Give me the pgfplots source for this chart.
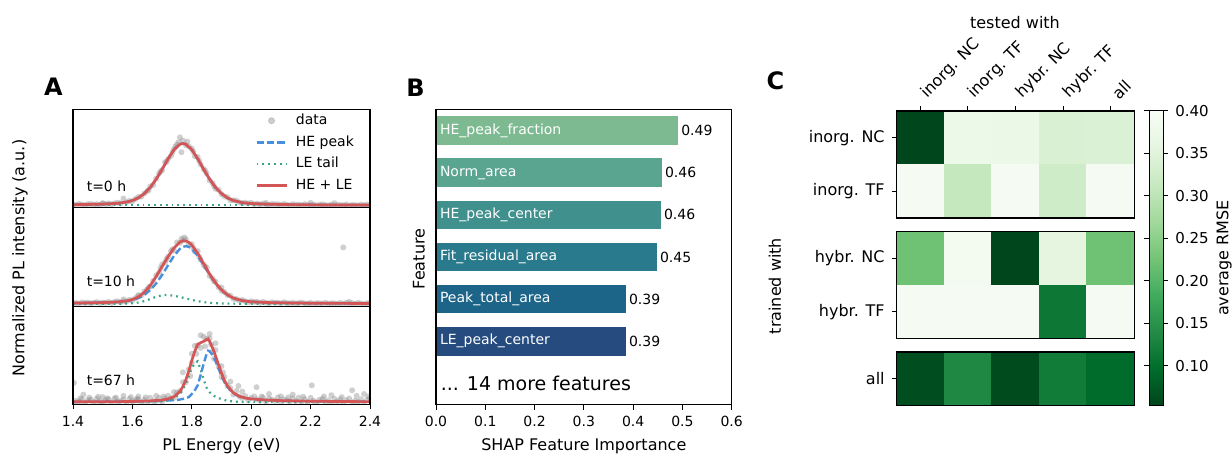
\documentclass[border=0pt]{standalone}
\usepackage{fontspec}
\setmainfont{DejaVu Sans}
\usepackage{pgfplots}
\pgfplotsset{compat=1.18}
\definecolor{fitred}{HTML}{D45555}
\definecolor{heblue}{HTML}{4690DE}
\definecolor{letail}{HTML}{3CA489}
\definecolor{ptgray}{HTML}{8C8C8C}
\definecolor{barA}{HTML}{7DBA91}
\definecolor{barB}{HTML}{59A590}
\definecolor{barC}{HTML}{40908E}
\definecolor{barD}{HTML}{287A8C}
\definecolor{barE}{HTML}{1C6488}
\definecolor{barF}{HTML}{254B7F}
\newcommand\fsS{\fontsize{7}{8.4}\selectfont}
\newcommand\fsM{\fontsize{8}{9.6}\selectfont}
\newcommand\fsL{\fontsize{9.5}{11}\selectfont}
\newcommand\fsP{\fontsize{12}{14}\selectfont\bfseries}
\pgfplotsset{
  colormap={greensr}{rgb255=(0,68,27) rgb255=(0,109,44) rgb255=(35,139,69) rgb255=(65,171,93) rgb255=(116,196,118) rgb255=(161,217,155) rgb255=(199,233,192) rgb255=(229,245,224) rgb255=(247,252,245)},
  myax/.style={scale only axis, axis line style={line width=0.6pt}, tick style={black, line width=0.5pt}, tick align=outside, major tick length=2.5pt, ticklabel style={font=\fsS}, /pgf/number format/assume math mode=true},
  panelA/.style={myax, width=148.5pt, height=49.167pt, xmin=1.4, xmax=2.4, ymin=-0.04, ymax=1.55, ymajorticks=false, xmajorticks=false, axis on top, clip marker paths=true},
  datapts/.style={only marks, mark=*, mark size=1.5pt, mark options={draw opacity=0, fill=ptgray, fill opacity=0.42},
     legend image code/.code={\fill[ptgray, opacity=0.42] (7.5pt,0pt) circle (1.5pt);}},
  linelegend/.style={legend image code/.code={\draw[##1] (0pt,0pt) -- (15pt,0pt);}},
  heline/.style={color=heblue, line width=1.2pt, dash pattern=on 3.6pt off 1.6pt, linelegend},
  leline/.style={color=letail, line width=1.1pt, dash pattern=on 0.9pt off 2pt, linelegend},
  redline/.style={color=fitred, line width=1.35pt, linelegend},
  heatax/.style={myax, width=118.8pt, xmin=-0.5, xmax=4.5, y dir=reverse, axis on top, colormap name=greensr, point meta min=0.053, point meta max=0.40, ytick pos=left, yticklabel style={font=\fsM}},
  heatcells/.style={patch, patch type=rectangle, shader=flat, point meta=explicit},
}
\begin{document}
\begin{tikzpicture}

% ---------------- Panel A top ----------------
\begin{axis}[panelA, at={(36.5pt,123.583pt)}, anchor=south west,
  legend cell align=left,
  legend style={at={(0.612,1.0)}, anchor=north west, draw=none, fill=none, font=\fsS, inner sep=0pt, row sep=0pt, /tikz/every odd column/.append style={column sep=2pt}}]
\addplot[datapts] coordinates {
(1.40,0.016)(1.41,0.004)(1.42,0.024)(1.43,0.012)(1.44,0.004)(1.45,0.019)(1.46,0.023)(1.47,0.012)(1.48,0.019)(1.49,0.008)
(1.50,0.029)(1.51,0.019)(1.52,0.031)(1.53,0.018)(1.54,0.033)(1.55,0.044)(1.56,0.031)(1.57,0.110)(1.58,0.049)(1.59,0.073)
(1.60,0.066)(1.61,0.103)(1.62,0.136)(1.63,0.141)(1.64,0.192)(1.65,0.231)(1.66,0.306)(1.67,0.329)(1.68,0.432)(1.69,0.516)
(1.70,0.569)(1.71,0.699)(1.72,0.748)(1.73,0.799)(1.74,0.910)(1.75,0.984)(1.76,1.100)(1.77,1.047)(1.78,0.973)(1.79,0.954)
(1.80,0.919)(1.81,0.795)(1.82,0.781)(1.83,0.660)(1.84,0.587)(1.85,0.516)(1.86,0.406)(1.87,0.360)(1.88,0.268)(1.89,0.252)
(1.90,0.182)(1.91,0.145)(1.92,0.131)(1.93,0.083)(1.94,0.080)(1.95,0.076)(1.96,0.049)(1.97,0.036)(1.98,0.043)(1.99,0.032)
(2.00,0.042)(2.01,0.018)(2.02,0.027)(2.03,0.016)(2.04,0.029)(2.05,0.016)(2.06,0.008)(2.07,0.023)(2.08,0.016)(2.09,0.019)
(2.10,0.006)(2.11,0.023)(2.12,0.008)(2.13,0.001)(2.14,0.019)(2.15,0.009)(2.16,0.013)(2.17,0.001)(2.18,0.020)(2.19,0.005)
(2.20,0.002)(2.21,0.013)(2.22,-0.002)(2.23,0.009)(2.24,0.016)(2.25,0.004)(2.26,-0.001)(2.27,0.012)(2.28,-0.005)(2.29,0.010)
(2.30,0.006)(2.31,0.001)(2.32,0.015)(2.33,-0.004)(2.34,0.007)(2.35,0.004)(2.36,-0.002)(2.37,0.012)(2.38,0.001)(2.39,0.015)
(2.40,-0.006)(1.765,0.86)(1.755,1.02)(1.785,1.03)(1.745,0.95)(2.20,0.04)(2.05,0.04)(1.50,0.035)(2.28,0.035)
(1.695,0.55)(1.715,0.70)(1.735,0.86)(1.805,0.87)(1.825,0.72)(1.845,0.56)(1.655,0.25)(1.875,0.31)};
\addlegendentry{data}
\addplot[heline] coordinates {(1.40,0.011)(1.45,0.015)(1.50,0.020)(1.55,0.033)(1.58,0.053)(1.60,0.078)(1.62,0.121)(1.64,0.190)(1.66,0.289)(1.68,0.423)(1.70,0.583)(1.72,0.752)(1.74,0.900)(1.76,0.988)(1.77,1.000)(1.78,0.988)(1.80,0.900)(1.82,0.752)(1.84,0.583)(1.86,0.423)(1.88,0.289)(1.90,0.190)(1.92,0.121)(1.94,0.078)(1.97,0.044)(2.00,0.030)(2.05,0.019)(2.10,0.014)(2.20,0.008)(2.30,0.006)(2.40,0.004)};
\addlegendentry{HE peak}
\addplot[leline] coordinates {(1.40,0)(2.40,0)};
\addlegendentry{LE tail}
\addplot[redline] coordinates {(1.40,0.011)(1.45,0.015)(1.50,0.020)(1.55,0.033)(1.58,0.053)(1.60,0.078)(1.62,0.121)(1.64,0.190)(1.66,0.289)(1.68,0.423)(1.70,0.583)(1.72,0.752)(1.74,0.900)(1.76,0.988)(1.77,1.000)(1.78,0.988)(1.80,0.900)(1.82,0.752)(1.84,0.583)(1.86,0.423)(1.88,0.289)(1.90,0.190)(1.92,0.121)(1.94,0.078)(1.97,0.044)(2.00,0.030)(2.05,0.019)(2.10,0.014)(2.20,0.008)(2.30,0.006)(2.40,0.004)};
\addlegendentry{HE + LE}
\node[anchor=west, font=\fsS, inner sep=0pt] at (rel axis cs:0.045,0.22) {t=0 h};
\end{axis}

% ---------------- Panel A middle ----------------
\begin{axis}[panelA, at={(36.5pt,74.417pt)}, anchor=south west]
\addplot[datapts] coordinates {
(1.40,0.005)(1.41,0.011)(1.42,0.000)(1.43,0.020)(1.44,0.010)(1.45,0.019)(1.46,0.005)(1.47,0.017)(1.48,0.025)(1.49,0.010)
(1.50,0.018)(1.51,0.015)(1.52,0.028)(1.53,0.012)(1.54,0.030)(1.55,0.040)(1.56,0.023)(1.57,0.037)(1.58,0.040)(1.59,0.063)
(1.60,0.054)(1.61,0.090)(1.62,0.117)(1.63,0.135)(1.64,0.198)(1.65,0.233)(1.66,0.277)(1.67,0.368)(1.68,0.457)(1.69,0.504)
(1.70,0.634)(1.71,0.670)(1.72,0.760)(1.73,0.851)(1.74,0.863)(1.75,0.991)(1.76,0.985)(1.77,1.021)(1.78,1.041)(1.79,0.961)
(1.80,0.963)(1.81,0.844)(1.82,0.850)(1.83,0.715)(1.84,0.631)(1.85,0.582)(1.86,0.451)(1.87,0.406)(1.88,0.354)(1.89,0.267)
(1.90,0.209)(1.91,0.187)(1.92,0.141)(1.93,0.129)(1.94,0.079)(1.95,0.076)(1.96,0.053)(1.97,0.059)(1.98,0.038)(1.99,0.024)
(2.00,0.038)(2.01,0.028)(2.02,0.029)(2.03,0.014)(2.04,0.031)(2.05,0.014)(2.06,0.006)(2.07,0.024)(2.08,0.014)(2.09,0.017)
(2.10,0.005)(2.11,0.024)(2.12,0.009)(2.13,0.005)(2.14,0.016)(2.15,0.001)(2.16,0.011)(2.17,0.018)(2.18,0.006)(2.19,0.001)
(2.20,0.014)(2.21,-0.003)(2.22,0.011)(2.23,0.007)(2.24,0.002)(2.25,0.016)(2.26,-0.002)(2.27,0.008)(2.28,0.005)(2.29,-0.001)
(2.30,0.013)(2.31,0.002)(2.32,0.016)(2.33,-0.005)(2.34,0.010)(2.35,-0.003)(2.36,0.015)(2.37,0.003)(2.38,-0.006)(2.39,0.008)
(2.40,0.011)(2.31,0.91)(1.775,1.07)(1.765,1.05)(1.57,0.07)(1.62,0.14)(1.90,0.26)(2.33,0.03)
(1.695,0.58)(1.715,0.72)(1.735,0.88)(1.805,0.90)(1.825,0.76)(1.845,0.60)(1.655,0.27)(1.875,0.36)};
\addplot[heline] coordinates {(1.40,0.010)(1.45,0.013)(1.50,0.018)(1.55,0.028)(1.58,0.041)(1.60,0.060)(1.62,0.090)(1.64,0.141)(1.66,0.219)(1.68,0.327)(1.70,0.465)(1.72,0.621)(1.74,0.773)(1.76,0.887)(1.77,0.919)(1.78,0.930)(1.79,0.919)(1.80,0.887)(1.82,0.773)(1.84,0.621)(1.86,0.465)(1.88,0.327)(1.90,0.219)(1.92,0.141)(1.94,0.090)(1.97,0.049)(2.00,0.031)(2.05,0.019)(2.10,0.014)(2.20,0.008)(2.30,0.005)(2.40,0.004)};
\addplot[leline] coordinates {(1.40,0)(1.56,0)(1.58,0.002)(1.60,0.007)(1.62,0.019)(1.64,0.042)(1.66,0.075)(1.68,0.112)(1.70,0.137)(1.71,0.140)(1.72,0.139)(1.74,0.128)(1.76,0.108)(1.78,0.085)(1.80,0.061)(1.82,0.041)(1.84,0.025)(1.86,0.014)(1.88,0.007)(1.90,0.0035)(1.92,0.0016)(1.96,0)(2.40,0)};
\addplot[redline] coordinates {(1.40,0.010)(1.45,0.013)(1.50,0.018)(1.55,0.028)(1.58,0.043)(1.60,0.067)(1.62,0.109)(1.64,0.183)(1.66,0.294)(1.68,0.439)(1.70,0.602)(1.72,0.760)(1.74,0.901)(1.76,0.995)(1.77,1.016)(1.78,1.015)(1.79,0.992)(1.80,0.948)(1.82,0.814)(1.84,0.646)(1.86,0.479)(1.88,0.334)(1.90,0.222)(1.92,0.143)(1.94,0.090)(1.97,0.049)(2.00,0.031)(2.05,0.019)(2.10,0.014)(2.20,0.008)(2.30,0.005)(2.40,0.004)};
\node[anchor=west, font=\fsS, inner sep=0pt] at (rel axis cs:0.045,0.25) {t=10 h};
\end{axis}

% ---------------- Panel A bottom ----------------
\begin{axis}[panelA, at={(36.5pt,25.25pt)}, anchor=south west,
  xmajorticks=true, xtick={1.4,1.6,1.8,2.0,2.2,2.4}, xtick pos=left,
  xticklabel style={/pgf/number format/.cd, fixed, fixed zerofill, precision=1}]
\addplot[datapts] coordinates {
(1.40,-0.012)(1.41,0.020)(1.42,0.006)(1.43,0.047)(1.44,-0.025)(1.45,0.030)(1.46,0.039)(1.47,-0.002)(1.48,0.053)(1.49,0.013)
(1.50,-0.015)(1.51,0.027)(1.52,0.045)(1.53,-0.005)(1.54,0.058)(1.55,0.005)(1.56,0.019)(1.57,0.037)(1.58,-0.017)(1.59,0.051)
(1.60,0.011)(1.61,0.026)(1.62,0.045)(1.63,-0.005)(1.64,0.037)(1.65,-0.017)(1.66,0.067)(1.67,0.014)(1.68,0.017)(1.69,0.068)
(1.70,0.001)(1.71,0.057)(1.72,0.101)(1.73,0.062)(1.74,0.066)(1.75,0.154)(1.76,0.176)(1.77,0.321)(1.78,0.320)(1.79,0.529)
(1.80,0.633)(1.81,0.909)(1.82,0.918)(1.83,0.875)(1.84,1.054)(1.85,1.022)(1.86,1.029)(1.87,0.818)(1.88,0.841)(1.89,0.575)
(1.90,0.403)(1.91,0.406)(1.92,0.265)(1.93,0.224)(1.94,0.120)(1.95,0.176)(1.96,0.089)(1.97,0.064)(1.98,0.098)(1.99,0.029)
(2.00,0.067)(2.01,0.092)(2.02,0.044)(2.03,0.021)(2.04,0.071)(2.05,0.001)(2.06,0.056)(2.07,0.040)(2.08,0.018)(2.09,0.074)
(2.10,0.001)(2.11,0.042)(2.12,0.027)(2.13,0.008)(2.14,0.058)(2.15,0.015)(2.16,0.070)(2.17,-0.010)(2.18,0.045)(2.19,-0.002)
(2.20,0.067)(2.21,0.020)(2.22,-0.013)(2.23,0.037)(2.24,0.051)(2.25,0.004)(2.26,0.027)(2.27,-0.020)(2.28,0.053)(2.29,0.011)
(2.30,0.043)(2.31,-0.012)(2.32,0.029)(2.33,0.056)(2.34,-0.004)(2.35,0.019)(2.36,0.005)(2.37,0.046)(2.38,-0.018)(2.39,0.037)
(2.40,0.059)
(1.403,0.31)(1.435,0.12)(1.57,0.10)(1.62,0.09)(1.68,0.10)(1.74,0.16)(1.50,0.08)(1.77,0.48)(1.80,0.78)(1.83,1.08)
(1.86,1.10)(1.88,0.95)(1.90,0.58)(1.93,0.33)(1.957,0.26)(1.97,0.17)(2.018,0.24)(2.06,0.13)(2.10,0.09)(2.14,0.12)
(2.204,0.27)(2.27,0.11)(2.34,0.19)(2.38,0.13)(1.455,0.07)(1.515,0.06)(1.595,0.08)(1.645,0.075)(1.705,0.09)(2.035,0.09)
(2.125,0.075)(2.175,0.085)(2.245,0.09)(2.305,0.08)(2.355,0.10)(2.395,0.09)(1.425,0.06)(1.485,0.085)(1.545,0.07)(1.615,0.05)
(1.845,0.90)(1.815,0.78)(1.875,0.70)(1.865,0.93)(1.795,0.42)(1.905,0.48)};
\addplot[heline] coordinates {(1.40,0.003)(1.50,0.005)(1.60,0.008)(1.66,0.013)(1.70,0.020)(1.72,0.025)(1.74,0.030)(1.76,0.040)(1.77,0.050)(1.78,0.060)(1.79,0.080)(1.80,0.130)(1.81,0.190)(1.82,0.270)(1.83,0.440)(1.84,0.620)(1.85,0.780)(1.855,0.830)(1.86,0.820)(1.87,0.760)(1.88,0.660)(1.89,0.540)(1.90,0.420)(1.91,0.320)(1.92,0.240)(1.94,0.140)(1.96,0.090)(1.98,0.065)(2.00,0.050)(2.05,0.032)(2.10,0.022)(2.20,0.013)(2.30,0.008)(2.40,0.006)};
\addplot[leline] coordinates {(1.40,0)(1.60,0)(1.66,0.005)(1.70,0.012)(1.72,0.025)(1.74,0.055)(1.76,0.130)(1.77,0.200)(1.78,0.300)(1.79,0.420)(1.80,0.540)(1.81,0.630)(1.82,0.660)(1.83,0.520)(1.84,0.360)(1.85,0.230)(1.86,0.160)(1.87,0.115)(1.88,0.085)(1.90,0.045)(1.92,0.020)(1.94,0.008)(1.96,0.003)(2.00,0)(2.40,0)};
\addplot[redline] coordinates {(1.40,0.003)(1.50,0.005)(1.60,0.008)(1.66,0.018)(1.70,0.032)(1.72,0.050)(1.74,0.085)(1.76,0.170)(1.77,0.250)(1.78,0.360)(1.79,0.500)(1.80,0.670)(1.81,0.820)(1.82,0.930)(1.83,0.960)(1.84,0.980)(1.85,1.010)(1.855,1.020)(1.86,0.980)(1.87,0.875)(1.88,0.745)(1.89,0.603)(1.90,0.465)(1.91,0.350)(1.92,0.260)(1.94,0.148)(1.96,0.093)(1.98,0.065)(2.00,0.050)(2.05,0.032)(2.10,0.022)(2.20,0.013)(2.30,0.008)(2.40,0.006)};
\node[anchor=west, font=\fsS, inner sep=0pt] at (rel axis cs:0.045,0.245) {t=67 h};
\end{axis}

% ---------------- Panel B ----------------
\begin{axis}[myax, at={(218pt,25.25pt)}, anchor=south west, width=147.85pt, height=147.5pt,
  xmin=0, xmax=0.6, ymin=-0.5, ymax=6.5, y dir=reverse, ymajorticks=false, axis on top,
  xtick={0,0.1,0.2,0.3,0.4,0.5,0.6}, xtick pos=left,
  xticklabel style={/pgf/number format/.cd, fixed, fixed zerofill, precision=1},
  xbar, bar width=0.68, bar shift=0pt]
\addplot[fill=barA, draw=none] coordinates {(0.492,0)};
\addplot[fill=barB, draw=none] coordinates {(0.459,1)};
\addplot[fill=barC, draw=none] coordinates {(0.457,2)};
\addplot[fill=barD, draw=none] coordinates {(0.449,3)};
\addplot[fill=barE, draw=none] coordinates {(0.386,4)};
\addplot[fill=barF, draw=none] coordinates {(0.386,5)};
\node[anchor=west, text=white, font=\fsS, inner sep=0pt, xshift=1.8pt] at (axis cs:0,0) {HE\_peak\_fraction};
\node[anchor=west, text=white, font=\fsS, inner sep=0pt, xshift=1.8pt] at (axis cs:0,1) {Norm\_area};
\node[anchor=west, text=white, font=\fsS, inner sep=0pt, xshift=1.8pt] at (axis cs:0,2) {HE\_peak\_center};
\node[anchor=west, text=white, font=\fsS, inner sep=0pt, xshift=1.8pt] at (axis cs:0,3) {Fit\_residual\_area};
\node[anchor=west, text=white, font=\fsS, inner sep=0pt, xshift=1.8pt] at (axis cs:0,4) {Peak\_total\_area};
\node[anchor=west, text=white, font=\fsS, inner sep=0pt, xshift=1.8pt] at (axis cs:0,5) {LE\_peak\_center};
\node[anchor=west, font=\fsS, inner sep=0pt, xshift=1.2pt] at (axis cs:0.492,0) {0.49};
\node[anchor=west, font=\fsS, inner sep=0pt, xshift=1.2pt] at (axis cs:0.459,1) {0.46};
\node[anchor=west, font=\fsS, inner sep=0pt, xshift=1.2pt] at (axis cs:0.457,2) {0.46};
\node[anchor=west, font=\fsS, inner sep=0pt, xshift=1.2pt] at (axis cs:0.449,3) {0.45};
\node[anchor=west, font=\fsS, inner sep=0pt, xshift=1.2pt] at (axis cs:0.386,4) {0.39};
\node[anchor=west, font=\fsS, inner sep=0pt, xshift=1.2pt] at (axis cs:0.386,5) {0.39};
\node[anchor=west, font=\fsL, inner sep=0pt, xshift=2.2pt] at (axis cs:0,6) {... 14 more features};
\end{axis}

% ---------------- Panel C heatmap ----------------
\begin{axis}[heatax, at={(448.35pt,118.5pt)}, anchor=south west, height=53.5pt, ymin=-0.5, ymax=1.5,
  ytick={0,1}, yticklabels={inorg. NC, inorg. TF},
  xtick={0,1,2,3,4}, xticklabels={inorg. NC, inorg. TF, hybr. NC, hybr. TF, all},
  xtick pos=right, xticklabel pos=right,
  xticklabel style={font=\fsM, xshift=4.5pt, yshift=-2.5pt, rotate=45, anchor=south west},
  colorbar,
  colorbar style={at={(parent axis.north east)}, anchor=north west, xshift=-1.18pt,
    scale only axis, width=7.15pt, height=147.25pt,
    axis line style={line width=0.5pt}, tick style={black, line width=0.5pt}, tick align=outside, major tick length=2.5pt,
    ytick={0.10,0.15,0.20,0.25,0.30,0.35,0.40},
    yticklabel style={font=\fontsize{7.5}{9}\selectfont, /pgf/number format/.cd, fixed, fixed zerofill, precision=2},
    /pgf/number format/assume math mode=true}]
\addplot[heatcells] coordinates {
(-0.5,-0.5)[0.055] (0.5,-0.5)[0.055] (0.5,0.5)[0.055] (-0.5,0.5)[0.055]
(0.5,-0.5)[0.374] (1.5,-0.5)[0.374] (1.5,0.5)[0.374] (0.5,0.5)[0.374]
(1.5,-0.5)[0.372] (2.5,-0.5)[0.372] (2.5,0.5)[0.372] (1.5,0.5)[0.372]
(2.5,-0.5)[0.339] (3.5,-0.5)[0.339] (3.5,0.5)[0.339] (2.5,0.5)[0.339]
(3.5,-0.5)[0.342] (4.5,-0.5)[0.342] (4.5,0.5)[0.342] (3.5,0.5)[0.342]
(-0.5,0.5)[0.395] (0.5,0.5)[0.395] (0.5,1.5)[0.395] (-0.5,1.5)[0.395]
(0.5,0.5)[0.312] (1.5,0.5)[0.312] (1.5,1.5)[0.312] (0.5,1.5)[0.312]
(1.5,0.5)[0.395] (2.5,0.5)[0.395] (2.5,1.5)[0.395] (1.5,1.5)[0.395]
(2.5,0.5)[0.325] (3.5,0.5)[0.325] (3.5,1.5)[0.325] (2.5,1.5)[0.325]
(3.5,0.5)[0.395] (4.5,0.5)[0.395] (4.5,1.5)[0.395] (3.5,1.5)[0.395]};
\end{axis}

\begin{axis}[heatax, at={(448.35pt,58.25pt)}, anchor=south west, height=53.5pt, ymin=1.5, ymax=3.5,
  ytick={2,3}, yticklabels={hybr. NC, hybr. TF}, xtick=\empty]
\addplot[heatcells] coordinates {
(-0.5,1.5)[0.222] (0.5,1.5)[0.222] (0.5,2.5)[0.222] (-0.5,2.5)[0.222]
(0.5,1.5)[0.390] (1.5,1.5)[0.390] (1.5,2.5)[0.390] (0.5,2.5)[0.390]
(1.5,1.5)[0.055] (2.5,1.5)[0.055] (2.5,2.5)[0.055] (1.5,2.5)[0.055]
(2.5,1.5)[0.357] (3.5,1.5)[0.357] (3.5,2.5)[0.357] (2.5,2.5)[0.357]
(3.5,1.5)[0.222] (4.5,1.5)[0.222] (4.5,2.5)[0.222] (3.5,2.5)[0.222]
(-0.5,2.5)[0.395] (0.5,2.5)[0.395] (0.5,3.5)[0.395] (-0.5,3.5)[0.395]
(0.5,2.5)[0.395] (1.5,2.5)[0.395] (1.5,3.5)[0.395] (0.5,3.5)[0.395]
(1.5,2.5)[0.395] (2.5,2.5)[0.395] (2.5,3.5)[0.395] (1.5,3.5)[0.395]
(2.5,2.5)[0.112] (3.5,2.5)[0.112] (3.5,3.5)[0.112] (2.5,3.5)[0.112]
(3.5,2.5)[0.395] (4.5,2.5)[0.395] (4.5,3.5)[0.395] (3.5,3.5)[0.395]};
\end{axis}

\begin{axis}[heatax, at={(448.35pt,24.75pt)}, anchor=south west, height=26.75pt, ymin=3.5, ymax=4.5,
  ytick={4}, yticklabels={all}, xtick=\empty]
\addplot[heatcells] coordinates {
(-0.5,3.5)[0.063] (0.5,3.5)[0.063] (0.5,4.5)[0.063] (-0.5,4.5)[0.063]
(0.5,3.5)[0.135] (1.5,3.5)[0.135] (1.5,4.5)[0.135] (0.5,4.5)[0.135]
(1.5,3.5)[0.060] (2.5,3.5)[0.060] (2.5,4.5)[0.060] (1.5,4.5)[0.060]
(2.5,3.5)[0.118] (3.5,3.5)[0.118] (3.5,4.5)[0.118] (2.5,4.5)[0.118]
(3.5,3.5)[0.095] (4.5,3.5)[0.095] (4.5,4.5)[0.095] (3.5,4.5)[0.095]};
\end{axis}

% ---------------- labels ----------------
\node[font=\fsP] at (26.7pt,184.2pt) {A};
\node[font=\fsP] at (207.7pt,183.75pt) {B};
\node[font=\fsP] at (387.7pt,187.25pt) {C};
\node[font=\fsM, rotate=90, inner sep=0pt] at (10pt,98.5pt) {Normalized PL intensity (a.u.)};
\node[font=\fsM, inner sep=0pt] at (110.75pt,4.6pt) {PL Energy (eV)};
\node[font=\fsM, inner sep=0pt] at (291.9pt,4.6pt) {SHAP Feature Importance};
\node[font=\fsM, rotate=90, inner sep=0pt] at (209.5pt,98pt) {Feature};
\node[font=\fsM, inner sep=0pt] at (507.5pt,216.3pt) {tested with};
\node[font=\fsM, rotate=90, inner sep=0pt] at (387.5pt,84.5pt) {trained with};
\node[font=\fsM, rotate=90, inner sep=0pt] at (612pt,98.5pt) {average RMSE};
\pgfresetboundingbox
\path[use as bounding box] (0,0) rectangle (616pt,227.5pt);
\end{tikzpicture}
\end{document}
